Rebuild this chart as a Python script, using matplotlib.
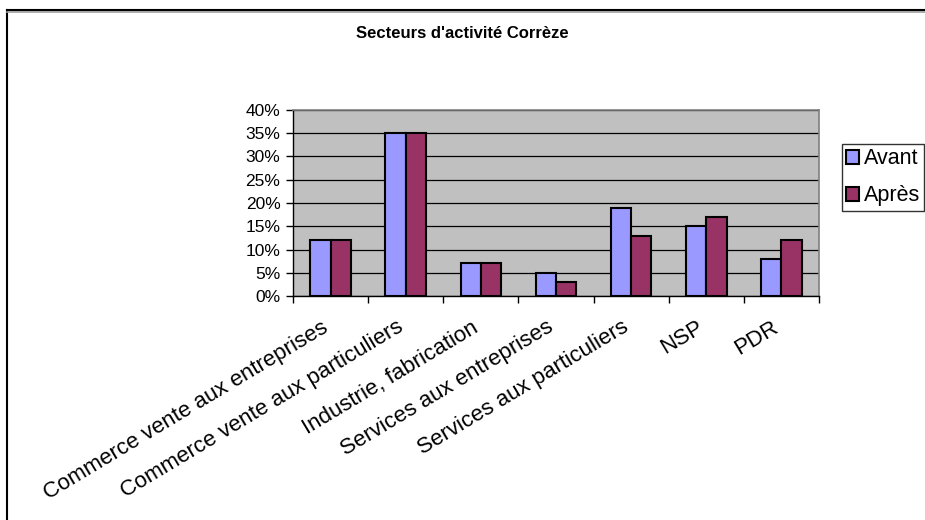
import numpy as np
import matplotlib.pyplot as plt
import matplotlib.transforms as mtransforms
from matplotlib.lines import Line2D

plt.rcParams['font.family'] = ['Liberation Sans', 'DejaVu Sans']

# Secteurs d'activité, parts avant / après
secteurs = ['Commerce vente aux entreprises', 'Commerce vente aux particuliers',
            'Industrie, fabrication', 'Services aux entreprises',
            'Services aux particuliers', 'NSP', 'PDR']
avant = [12, 35, 7, 5, 19, 15, 8]
apres = [12, 35, 7, 3, 13, 17, 12]
yticks = [0, 5, 10, 15, 20, 25, 30, 35, 40]

fig = plt.figure(figsize=(9.25, 5.2), dpi=100)
ax = fig.add_axes([293 / 925, 1 - 296 / 520, 526 / 925, 186 / 520])

x = np.arange(len(secteurs))
w = 0.27
ax.bar(x - w / 2, avant, w, color='#9999FF', edgecolor='black', linewidth=1.5, label='Avant', zorder=3)
ax.bar(x + w / 2, apres, w, color='#993366', edgecolor='black', linewidth=1.5, label='Après', zorder=3)

ax.set_facecolor('#C0C0C0')
ax.set_xlim(-0.5, len(secteurs) - 0.5)
ax.set_ylim(0, 40)
ax.set_yticks(yticks)
ax.set_yticklabels([f'{v}%' for v in yticks], fontsize=12.5)
ax.yaxis.grid(True, color='black', linewidth=0.9, zorder=0)
ax.set_axisbelow(True)

# ticks between categories, labels at category centres
ax.set_xticks(np.arange(len(secteurs) + 1) - 0.5)
ax.set_xticklabels([])
ax.set_xticks(x, minor=True)
ax.set_xticklabels(secteurs, minor=True, rotation=31, ha='right',
                   rotation_mode='anchor', fontsize=16)
ax.tick_params(axis='x', which='minor', length=0, pad=15)
ax.tick_params(axis='x', which='major', direction='out', length=5, width=1)
ax.tick_params(axis='y', direction='out', length=5, width=1, pad=4)

shift = mtransforms.ScaledTranslation(-10 / 100, 0, fig.dpi_scale_trans)
for lab in ax.get_xticklabels(minor=True):
    lab.set_transform(lab.get_transform() + shift)

for side in ['top', 'right']:
    ax.spines[side].set_color('#808080')
    ax.spines[side].set_linewidth(1.2)
for side in ['left', 'bottom']:
    ax.spines[side].set_color('black')
    ax.spines[side].set_linewidth(1)

fig.text(0.5, 1 - 33 / 520, "Secteurs d'activité Corrèze", ha='center', va='center',
         fontsize=12, fontweight='bold')

leg = fig.legend(loc='upper left', bbox_to_anchor=(842 / 925, 1 - 144 / 520),
                 fontsize=15.5, frameon=True, fancybox=False, edgecolor='black',
                 handlelength=0.6, handleheight=0.6, handletextpad=0.2,
                 borderpad=0.2, labelspacing=0.75, borderaxespad=0)
leg.get_frame().set_linewidth(1)
for h in leg.legend_handles:
    h.set_linewidth(1.5)

# outer chart frame (left and top edges)
fig.add_artist(Line2D([7 / 925, 7 / 925], [0, 1 - 10 / 520], transform=fig.transFigure,
                      color='black', linewidth=1.5))
fig.add_artist(Line2D([7 / 925, 1], [1 - 12 / 520, 1 - 12 / 520], transform=fig.transFigure,
                      color='#A0A0A0', linewidth=1.2))
fig.add_artist(Line2D([7 / 925, 1], [1 - 10 / 520, 1 - 10 / 520], transform=fig.transFigure,
                      color='black', linewidth=1.5))

fig.savefig('out.png', dpi=100)
